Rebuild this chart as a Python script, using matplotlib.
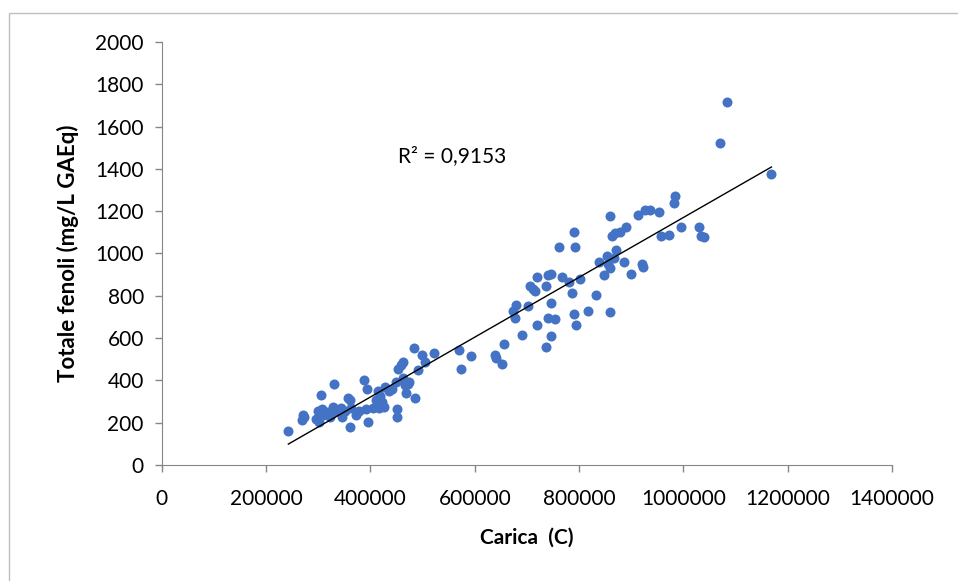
import numpy as np
import matplotlib
matplotlib.use("Agg")
import matplotlib.pyplot as plt
from matplotlib.patches import Rectangle

plt.rcParams['font.family'] = ['Lato', 'DejaVu Sans']

# Carica (C) values, in thousands
carica_k = [242.5, 272, 270, 268, 305, 299, 307, 296, 301, 308, 316, 322, 330, 328, 334,
            343, 346, 351, 357, 361, 363, 360, 373, 378, 387, 394, 395, 392, 404, 410,
            414, 416, 419, 422, 425, 428, 436, 442, 449, 451, 451, 453, 459, 463, 463,
            466, 469, 472, 474, 484, 486, 492, 498, 504, 521, 570, 574, 592, 638, 641,
            653, 656, 674, 677, 680, 691, 703, 706, 711, 715, 720, 720, 736, 736, 740,
            740, 747, 746, 747, 753, 761, 767, 781, 787, 791, 793, 791, 794, 802, 818,
            832, 838, 847, 853, 855, 859, 859, 859, 863, 869, 870, 868, 879, 887, 890,
            899, 914, 920, 923, 926, 937, 954, 957, 972, 984, 982, 996, 1031, 1034, 1039,
            1070, 1084, 1169]

# Totale fenoli (mg/L GAEq)
fenoli = [161, 228, 237, 215, 329, 254, 263, 219, 201, 236, 250, 228, 385, 275, 257,
          271, 228, 254, 319, 306, 271, 180, 236, 254, 400, 359, 205, 263, 271, 306,
          350, 271, 324, 298, 275, 368, 350, 359, 394, 263, 228, 455, 473, 485, 412,
          377, 342, 385, 394, 552, 315, 447, 520, 485, 531, 546, 455, 517, 520, 508,
          478, 574, 730, 695, 757, 616, 751, 844, 832, 823, 888, 664, 846, 560, 897,
          695, 905, 765, 609, 692, 1033, 888, 867, 811, 1103, 1030, 716, 664, 879, 730,
          806, 960, 897, 990, 951, 932, 1177, 723, 1082, 1098, 1016, 977, 1103, 960, 1124,
          905, 1182, 949, 937, 1208, 1208, 1194, 1081, 1089, 1270, 1238, 1126, 1126, 1082, 1077,
          1524, 1716, 1375]

r2_label = "R² = 0,9153"

x = np.array(carica_k) * 1000
y = np.array(fenoli)

fig = plt.figure(figsize=(9.58, 5.81), dpi=100)
fig.patches.append(Rectangle((9 / 958, -0.1), 1.2, 1 - 13 / 581 + 0.1, transform=fig.transFigure,
                             fill=False, edgecolor='#bfbfbf', linewidth=1))
ax = fig.add_axes([0.169, 0.1997, 0.762, 0.728])

ax.scatter(x, y, s=52, color='#4472C4', zorder=3, linewidths=0)

m, b = np.polyfit(x, y, 1)
xs = np.array([x.min(), x.max()])
ax.plot(xs, m * xs + b, color='black', linewidth=1, zorder=4)

ax.text(452000, 1460, r2_label, fontsize=15, va='center', ha='left')

ax.set_xlim(0, 1400000)
ax.set_ylim(0, 2000)
ax.set_xticks(np.arange(0, 1400001, 200000))
ax.set_yticks(np.arange(0, 2001, 200))
ax.set_xticklabels([str(v) for v in range(0, 1400001, 200000)])
ax.tick_params(axis='both', labelsize=15, color='#868686', length=5, width=1, direction='out')
ax.tick_params(axis='x', pad=12)
ax.tick_params(axis='y', pad=8)
for side in ['top', 'right']:
    ax.spines[side].set_visible(False)
for side in ['left', 'bottom']:
    ax.spines[side].set_color('#868686')

ax.set_xlabel('Carica  (C)', fontsize=15, fontweight='bold', labelpad=14)
ax.set_ylabel('Totale fenoli (mg/L GAEq)', fontsize=16, fontweight='bold', labelpad=12)

fig.savefig('out.png', dpi=100)
